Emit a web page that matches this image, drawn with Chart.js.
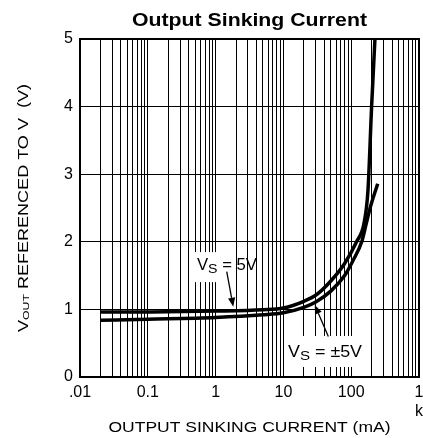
<!DOCTYPE html>
<html>
<head>
<meta charset="utf-8">
<script src="https://cdn.jsdelivr.net/npm/chart.js@4"></script>
<style>
html,body{margin:0;padding:0;background:#fff;}
#wrap{width:423px;height:438px;position:relative;}
</style>
</head>
<body>
<div id="wrap"><canvas id="c" width="423" height="438"></canvas></div>
<script>
// ---- data ----
const chartTitle = 'Output Sinking Current';
const xAxisTitle = 'OUTPUT SINKING CURRENT (mA)';
const yAxisTitleParts = [['V', false], ['OUT', true], [' REFERENCED TO V  (V)', false]];
const xDecades = [0.01, 0.1, 1, 10, 100, 1000];
const xDecadeLabels = ['.01', '0.1', '1', '10', '100', ['1', 'k']];
const xMinorMultipliers = [2, 3, 4, 5, 6, 7, 8, 9];
const yTicks = [0, 1, 2, 3, 4, 5];

const seriesNames = ['VS = 5V', 'VS = ±5V'];
// V_S = 5V
const current5V = [0.02, 0.1, 1, 5, 10, 20, 31, 50, 80, 120, 155, 177, 200, 224];
const vout5V    = [0.96, 0.963, 0.975, 0.995, 1.02, 1.12, 1.22, 1.42, 1.68, 2.0, 2.28, 2.77, 4.0, 5.0];
// V_S = ±5V
const currentPM5V = [0.02, 0.1, 1, 5, 10, 20, 30, 50, 80, 106, 143, 165, 190, 246];
const voutPM5V    = [0.84, 0.855, 0.88, 0.92, 0.95, 1.03, 1.11, 1.27, 1.5, 1.72, 2.0, 2.25, 2.5, 2.86];

// annotation anchors in data units (mA, V)
const annotations = [
  { parts: [['V', false], ['S', true], [' = 5V', false]], at: [1.47, 1.67], width: 60,
    box: [-33, -12, 42, 30], arrowFrom: [1.46, 1.56], arrowTo: [1.82, 1.04] },
  { parts: [['V', false], ['S', true], [' = ±5V', false]], at: [41.1, 0.385], width: 74,
    box: [-40, -15, 81, 31], arrowFrom: [46, 0.6], arrowTo: [29, 1.065] }
];

const FONT = "'Liberation Sans', Arial, Helvetica, sans-serif";

// gridline values
const xGridValues = [];
xDecades.forEach((d, i) => {
  xGridValues.push(d);
  if (i < xDecades.length - 1) xMinorMultipliers.forEach(m => xGridValues.push(d * m));
});

function toPoints(xs, ys) { return xs.map((x, i) => ({ x: x, y: ys[i] })); }

function partsWidth(ctx, parts, size, subScale, bold) {
  let w = 0;
  parts.forEach(p => {
    ctx.font = (bold ? 'bold ' : '') + (p[1] ? size * subScale : size) + 'px ' + FONT;
    w += ctx.measureText(p[0]).width;
  });
  return w;
}
// draw centered text with optional subscripts, stretched to target width
function drawParts(ctx, parts, cx, baseline, size, opts) {
  const subScale = opts.subScale || 0.7, subShift = opts.subShift || 2, bold = !!opts.bold;
  const w = partsWidth(ctx, parts, size, subScale, bold);
  const sx = opts.width ? opts.width / w : 1;
  ctx.save();
  ctx.translate(cx, baseline);
  if (opts.rotate) ctx.rotate(opts.rotate);
  ctx.scale(sx, 1);
  ctx.fillStyle = '#000';
  ctx.textBaseline = 'alphabetic';
  ctx.textAlign = 'left';
  let x = -w / 2;
  parts.forEach(p => {
    ctx.font = (bold ? 'bold ' : '') + (p[1] ? size * subScale : size) + 'px ' + FONT;
    ctx.fillText(p[0], x, p[1] ? subShift : 0);
    x += ctx.measureText(p[0]).width;
  });
  ctx.restore();
}

function arrow(ctx, x1, y1, x2, y2) {
  const ang = Math.atan2(y2 - y1, x2 - x1);
  const L = 9, H = 3.6;
  ctx.save();
  ctx.strokeStyle = '#000';
  ctx.fillStyle = '#000';
  ctx.lineWidth = 1.3;
  ctx.beginPath();
  ctx.moveTo(x1, y1);
  ctx.lineTo(x2 - L * Math.cos(ang), y2 - L * Math.sin(ang));
  ctx.stroke();
  ctx.beginPath();
  ctx.moveTo(x2, y2);
  ctx.lineTo(x2 - L * Math.cos(ang) + H * Math.sin(ang), y2 - L * Math.sin(ang) - H * Math.cos(ang));
  ctx.lineTo(x2 - L * Math.cos(ang) - H * Math.sin(ang), y2 - L * Math.sin(ang) + H * Math.cos(ang));
  ctx.closePath();
  ctx.fill();
  ctx.restore();
}

const decorPlugin = {
  id: 'decor',
  beforeDatasetsDraw(chart) {
    const ctx = chart.ctx, xs = chart.scales.x, ys = chart.scales.y;
    ctx.save();
    ctx.fillStyle = '#fff';
    annotations.forEach(a => {
      const cx = xs.getPixelForValue(a.at[0]), cy = ys.getPixelForValue(a.at[1]);
      ctx.fillRect(cx + a.box[0], cy + a.box[1], a.box[2], a.box[3]);
    });
    ctx.restore();
  },
  afterDatasetsDraw(chart) {
    const ctx = chart.ctx, xs = chart.scales.x, ys = chart.scales.y, ca = chart.chartArea;
    // frame
    ctx.save();
    ctx.strokeStyle = '#000';
    ctx.lineWidth = 2;
    ctx.strokeRect(ca.left, ca.top, ca.right - ca.left, ca.bottom - ca.top);
    ctx.restore();
    annotations.forEach(a => {
      const cx = xs.getPixelForValue(a.at[0]), cy = ys.getPixelForValue(a.at[1]);
      drawParts(ctx, a.parts, cx, cy + 6, 16, { width: a.width, subScale: 0.85, subShift: 3 });
      arrow(ctx, xs.getPixelForValue(a.arrowFrom[0]), ys.getPixelForValue(a.arrowFrom[1]),
                 xs.getPixelForValue(a.arrowTo[0]), ys.getPixelForValue(a.arrowTo[1]));
    });
  },
  afterDraw(chart) {
    const ctx = chart.ctx, ca = chart.chartArea;
    const midX = (ca.left + ca.right) / 2, midY = (ca.top + ca.bottom) / 2;
    drawParts(ctx, [[chartTitle, false]], midX, 26, 17.5, { bold: true, width: 235 });
    drawParts(ctx, [[xAxisTitle, false]], midX, 431.5, 15.5, { width: 282 });
    drawParts(ctx, yAxisTitleParts, 28, midY, 14.5, { width: 248, rotate: -Math.PI / 2, subScale: 0.68, subShift: 1 });
  }
};

function zeroPad(s) { s.paddingLeft = 0; s.paddingRight = 0; s.paddingTop = 0; s.paddingBottom = 0; }

new Chart(document.getElementById('c').getContext('2d'), {
  type: 'line',
  data: {
    datasets: [
      { label: seriesNames[0], data: toPoints(current5V, vout5V), borderColor: '#000', borderWidth: 3.5,
        pointRadius: 0, fill: false, cubicInterpolationMode: 'monotone' },
      { label: seriesNames[1], data: toPoints(currentPM5V, voutPM5V), borderColor: '#000', borderWidth: 3.5,
        pointRadius: 0, fill: false, cubicInterpolationMode: 'monotone' }
    ]
  },
  options: {
    responsive: false,
    animation: false,
    devicePixelRatio: 1,
    layout: { padding: { left: 0, right: 4, top: 39, bottom: 0 } },
    plugins: { legend: { display: false }, title: { display: false }, tooltip: { enabled: false } },
    scales: {
      x: {
        type: 'logarithmic', min: 0.01, max: 1000,
        afterBuildTicks: s => { s.ticks = xGridValues.map(v => ({ value: v })); },
        afterFit: s => { s.height = 61; zeroPad(s); },
        ticks: {
          autoSkip: false, maxRotation: 0, minRotation: 0, padding: 6, color: '#000',
          font: { family: FONT, size: 16 },
          callback: (v) => {
            const i = xDecades.findIndex(d => Math.abs(d - v) / d < 1e-6);
            return i >= 0 ? xDecadeLabels[i] : '';
          }
        },
        grid: { color: '#000', lineWidth: 1, drawTicks: false },
        border: { display: false }
      },
      y: {
        min: 0, max: 5,
        afterBuildTicks: s => { s.ticks = yTicks.map(v => ({ value: v })); },
        afterFit: s => { s.width = 80; zeroPad(s); },
        ticks: { padding: 7, color: '#000', font: { family: FONT, size: 16 } },
        grid: { color: '#000', lineWidth: 1, drawTicks: false },
        border: { display: false }
      }
    }
  },
  plugins: [decorPlugin]
});
</script>
</body>
</html>
